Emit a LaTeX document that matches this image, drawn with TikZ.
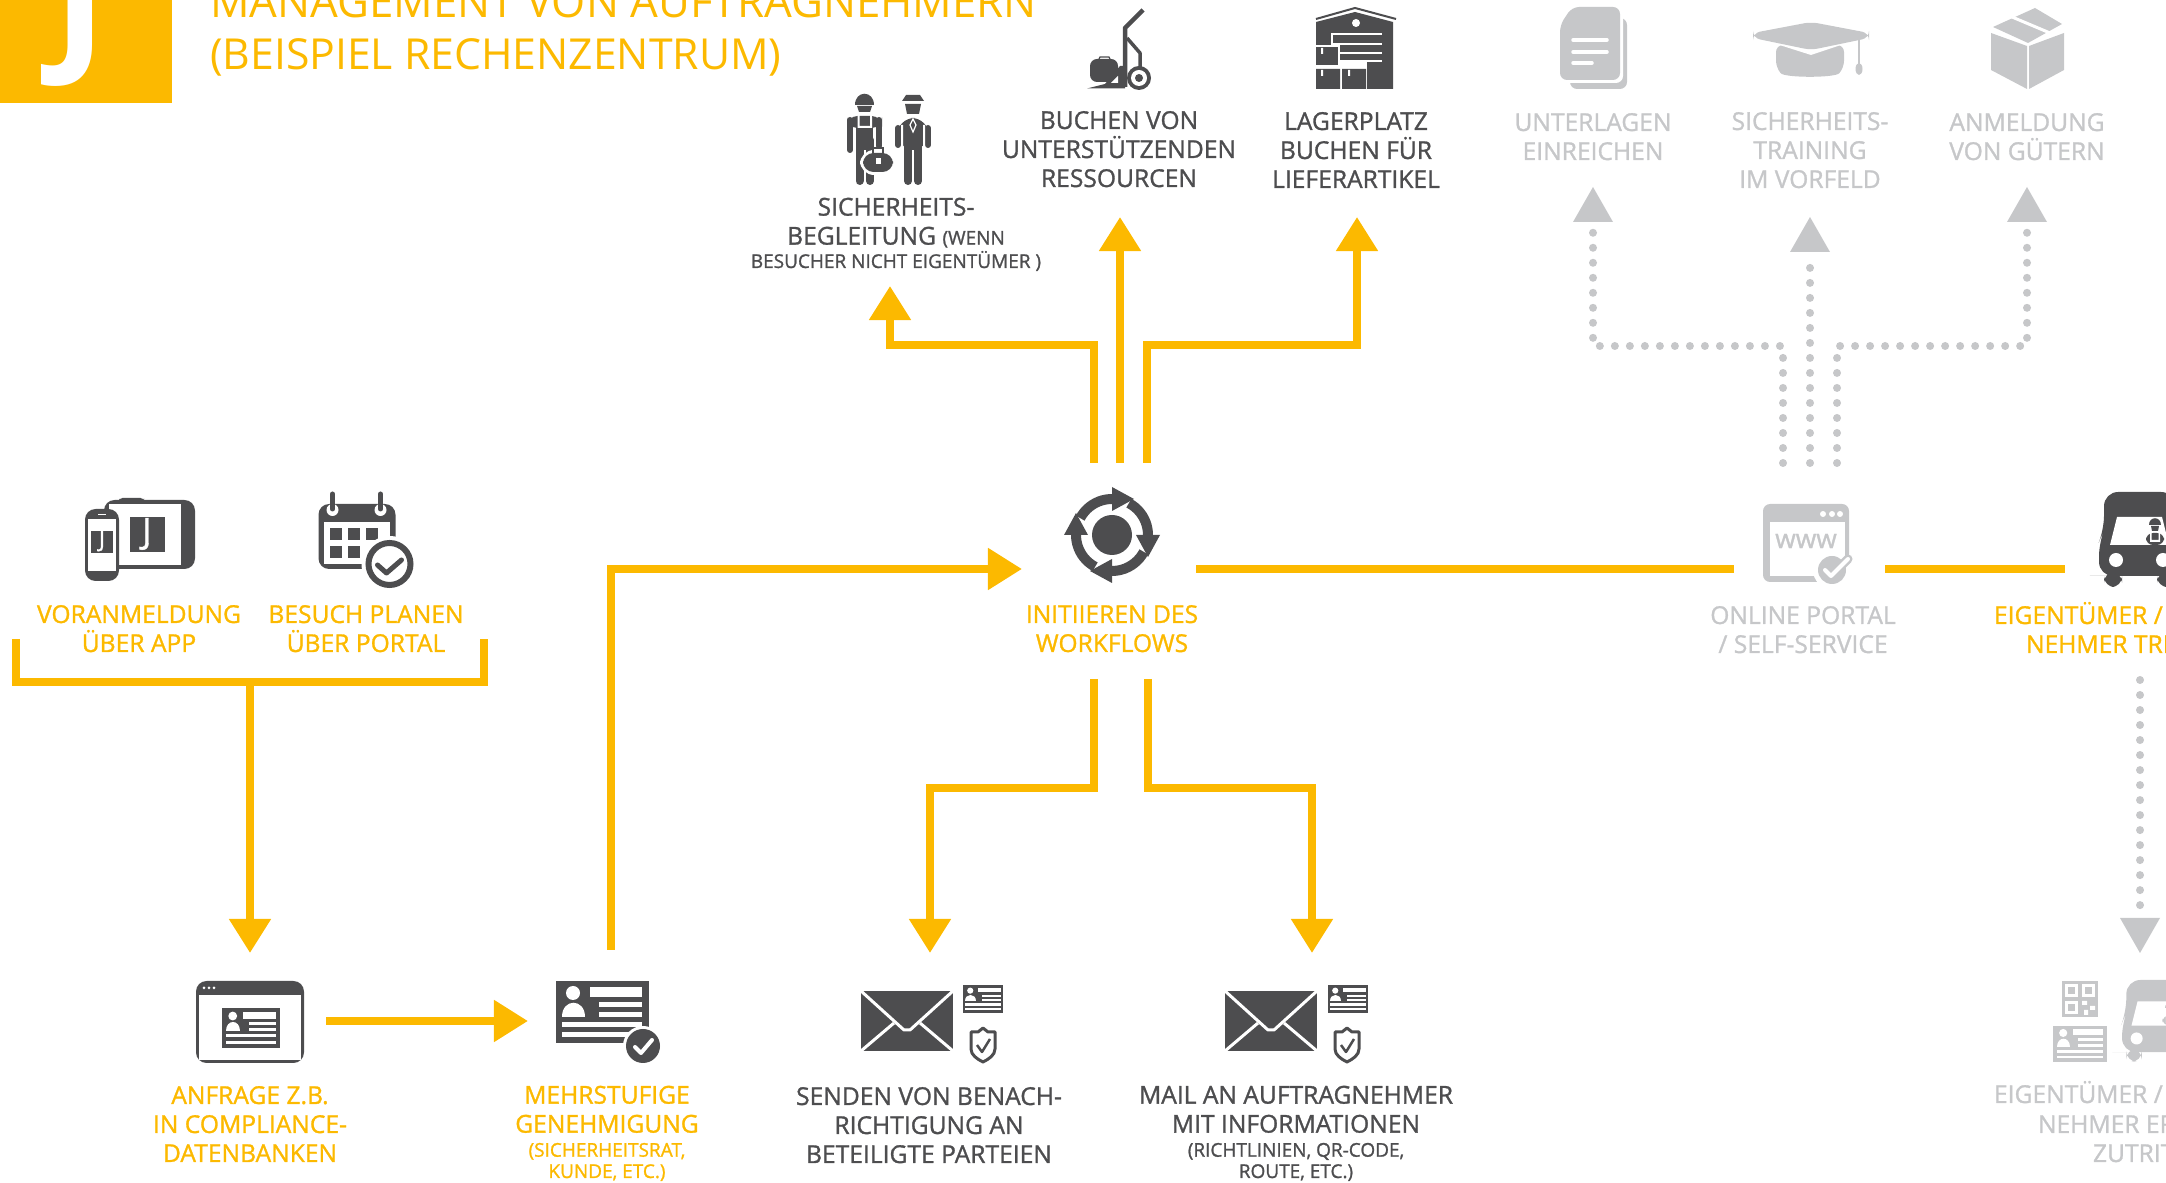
\documentclass[tikz,border=0pt]{standalone}
\usepackage{fontspec}
\setmainfont{Open Sans}
\newfontfamily\semifont[FakeBold=1.2]{Open Sans}
\newfontfamily\titlefont{Open Sans}
\usetikzlibrary{arrows.meta}
\definecolor{jorange}{HTML}{FCB900}
\definecolor{jdark}{HTML}{4D4D4F}
\definecolor{jgrey}{HTML}{C6C7C9}
\newcommand{\smalltxt}{\fontsize{5.4}{6.2}\selectfont}
\tikzset{
  txtbase/.style={anchor=base,align=center,inner sep=0pt,font=\semifont\fontsize{7}{8.25}\selectfont},
  orangelabel/.style={txtbase,text=jorange},
  darklabel/.style={txtbase,text=jdark},
  greylabel/.style={txtbase,text=jgrey},
  headtip/.style={-{Triangle[length=.34cm,width=.4cm]}},
  ywire/.style={draw=jorange,line width=.08cm},
  gdots/.style={draw=jgrey,line width=.08cm,line cap=round,dash pattern=on 0pt off .15cm},
  okmark/.style={line width=.035cm,line cap=round,line join=round},
  pics/idcard/.style={code={
    \fill[#1] (-46.5,-31) rectangle (46.5,31);
    \fill[white] (-29,-19) circle[radius=7];
    \fill[white] (-40,5) .. controls (-40,-14) and (-17,-14) .. (-17,5) -- cycle;
    \fill[white] (-12,-25) rectangle (40,-15);
    \fill[white] (-3,-10) rectangle (40,-5);
    \fill[white] (-3,0) rectangle (40,5);
    \fill[white] (-40,10) rectangle (40,15);
    \fill[white] (-40,20) rectangle (40,25);
  }},
  pics/envelope/.style={code={
    \fill[#1] (-46,-30) rectangle (46,30);
    \draw[white,line width=.03cm,line join=round] (-46,-30) -- (-3,9) -- (3,9) -- (46,-30);
    \draw[white,line width=.03cm] (-46,30) -- (-13,2) (46,30) -- (13,2);
  }},
  pics/shieldok/.style={code={
    \draw[#1,line width=.03cm,line join=round] (0,-17) -- (5,-13) -- (12,-13) -- (12,4) .. controls (12,10) and (6,14) .. (0,17)
      .. controls (-6,14) and (-12,10) .. (-12,4) -- (-12,-13) -- (-5,-13) -- cycle;
    \draw[#1,line width=.025cm,line join=round] (-6,0) -- (-1,7) -- (7,-6);
  }},
  pics/truck/.style={code={
    \fill[#1,rounded corners=4pt] (5,0) -- (76,0) -- (76,38) -- (81,50) -- (81,84) -- (5,84) -- (0,84) -- (0,50) -- (5,38) -- cycle;
    \fill[#1,rounded corners=3pt] (5,80) rectangle (23,95);
    \fill[#1,rounded corners=3pt] (58,80) rectangle (76,95);
    \fill[white] (18,25) -- (63,25) -- (70,53) -- (11,53) -- cycle;
    \fill[white] (17,68) circle[radius=7];
    \fill[white] (64,68) circle[radius=7];
    % driver
    \fill[#1] (50,33) .. controls (50,24) and (62,24) .. (62,33) -- cycle;
    \fill[#1] (52,34) -- (60,34) -- (59,39) -- (53,39) -- cycle;
    \fill[#1,rounded corners=2pt] (47,53) -- (47,41) -- (65,41) -- (65,53) -- cycle;
    \fill[white] (51,41) rectangle (52.5,50) (59.5,41) rectangle (61,50) (51,48) rectangle (61,50);
  }}
}
\begin{document}
\begin{tikzpicture}[x=.01cm,y=-.01cm,line width=.08cm]

  \clip (0,0) rectangle (2166,1183);

  % logo & title
  \fill[jorange] (0,0) rectangle (172,103);
  \node (logoj) at (80,12) [text=white,inner sep=0pt,font=\titlefont\bfseries\fontsize{46}{46}\selectfont] {J};
  \node (titleone) at (206,18) [anchor=base west,inner sep=0pt,text=jorange,font=\titlefont\fontsize{12.47}{14}\selectfont] {MANAGEMENT VON AUFTRAGNEHMERN};
  \node (titletwo) at (206,70) [anchor=base west,inner sep=0pt,text=jorange,font=\titlefont\fontsize{12.15}{14}\selectfont] {(BEISPIEL RECHENZENTRUM)};

  % icons left y=500
  \begin{scope}[shift={(1,0)}]
  \fill[jdark,rounded corners=3pt] (103,500) rectangle (194,569);
  \fill[jdark,rounded corners=1pt] (118,498) rectangle (143,502);
  \fill[white] (108,504) rectangle (180,565);
  \fill[jdark] (186,534) circle[radius=2.5];
  \fill[jdark] (129,517) rectangle (164,552);
  \node (tabletj) at (146,534) [text=white,inner sep=0pt,font=\semifont\fontsize{10}{10}\selectfont] {J};
  \fill[jdark,rounded corners=3pt] (84,509) rectangle (118,581);
  \fill[white] (87,519) rectangle (115,571);
  \fill[white] (97,514) rectangle (105,515.5);
  \fill[jdark] (90,531) rectangle (112,553);
  \node (phonej) at (101,541) [text=white,inner sep=0pt,font=\semifont\fontsize{6.5}{6.5}\selectfont] {J};
  \end{scope}

  \begin{scope}[shift={(1.5,0)}]
  \fill[jdark,rounded corners=3pt] (317,504) rectangle (394,569);
  \fill[white] (322,522) rectangle (388,564);
  \foreach \cx in {328,346,364} {
    \fill[jdark] (\cx,528) rectangle ++(12,12);
  }
  \foreach \cx in {328,346} {
    \fill[jdark] (\cx,546) rectangle ++(12,12);
  }
  \foreach \cx in {331,379} {
    \fill[white] (\cx,510) circle[radius=6];
    \draw[jdark,line width=.05cm,line cap=round] (\cx,494) -- (\cx,509);
  }
  \fill[white] (388,564) circle[radius=28];
  \draw[jdark,line width=.06cm] (388,564) circle[radius=21];
  \draw[jdark,line width=.05cm,line cap=round,line join=round] (376,565) -- (385,573) -- (400,560);
  \end{scope}

  % workflow icon
  \fill[jdark] (1112,535) circle[radius=20];
  \foreach \turn in {0,90,180,270} {
    \begin{scope}[shift={(1112,535)},rotate=\turn]
      \draw[jdark,line width=.1cm] plot[domain=-62:2,samples=12] ({36*cos(\x)},{36*sin(\x)});
      \fill[jdark] (24,0) -- (48,0) -- (36,22) -- cycle;
    \end{scope}
  }

  % portal icon
  \fill[jgrey,rounded corners=2pt] (1763,504) rectangle (1849,582);
  \fill[white] (1770,522) rectangle (1845,576);
  \foreach \cx in {1823,1832,1840} {
    \fill[white] (\cx,514) circle[radius=3];
  }
  \node (www) at (1806,541) [text=jgrey,inner sep=0pt,font=\semifont\fontsize{7.5}{8}\selectfont] {www};
  \fill[white] (1832,570) circle[radius=19];
  \fill[jgrey] (1832,570) circle[radius=14];
  \draw[jgrey,line width=.09cm,line cap=round,line join=round] (1825,570) -- (1831,576) -- (1848,559);
  \draw[white,line width=.04cm,line cap=round,line join=round] (1825,570) -- (1831,576) -- (1848,559);

  \pic at (2099,492) {truck=jdark};

  % icons bottom y=1020
  \fill[jdark,rounded corners=3pt] (196,981) rectangle (304,1063);
  \fill[white] (199,995) rectangle (301,1060);
  \foreach \cx in {204,209,214} {
    \fill[white] (\cx,988) circle[radius=1.5];
  }
  \pic[scale=.63] at (251,1028) {idcard=jdark};

  \pic at (602,1012) {idcard=jdark};
  \fill[white] (643,1046) circle[radius=20];
  \fill[jdark] (643,1046) circle[radius=17];
  \draw[white,okmark,line width=.04cm] (635,1047) -- (641,1053) -- (652,1040);

  \pic at (907,1021) {envelope=jdark};
  \pic[scale=.44] at (983,999) {idcard=jdark};
  \pic at (983,1045) {shieldok=jdark};

  \pic at (1271,1021) {envelope=jdark};
  \pic[scale=.44] at (1348,999) {idcard=jdark};
  \pic at (1347,1045) {shieldok=jdark};

  % QR, card, truck in grey
  \fill[jgrey] (2062,981) rectangle (2098,1017);
  \foreach \qx/\qy in {2065/984,2082/984,2065/1001} {
    \fill[white] (\qx,\qy) rectangle ++(13,13);
    \fill[jgrey] (\qx+3,\qy+3) rectangle ++(7,7);
  }
  \fill[white] (2082,1001) rectangle ++(5,4) (2090,1006) rectangle ++(5,4) (2084,1010) rectangle ++(4,5);
  \pic[scale=.58] at (2080,1044) {idcard=jgrey};
  \pic[scale=.86] at (2122,980) {truck=jgrey};

  % icons top y=10
  % escort: worker and officer
  \fill[jdark] (855,105) .. controls (855,90) and (874,90) .. (874,105) -- cycle;
  \fill[jdark] (857,106) -- (872,106) -- (870,112) -- (859,112) -- cycle;
  \fill[jdark,rounded corners=3pt] (847,116) rectangle (882,128);
  \draw[jdark,line width=.06cm,line cap=round] (850,120) -- (850,150) (879,120) -- (879,146);
  \fill[jdark] (856,120) rectangle (873,150);
  \draw[jdark,line width=.08cm,line cap=round] (859.5,140) -- (859.5,181) (870,140) -- (870,181);
  \fill[white] (857.5,115) rectangle (859.5,128) (870,115) rectangle (872,128) (857.5,126) rectangle (872,128);
  \fill[white,rounded corners=4pt] (860,150) rectangle (896,175);
  \fill[jdark,rounded corners=3pt] (863,153) rectangle (893,172);
  \draw[jdark,line width=.02cm] (873,154) -- (873,148) -- (883,148) -- (883,154);
  \fill[white] (875.5,158) rectangle (880.5,164);

  \fill[jdark] (906,95) -- (920,95) -- (924,101) -- (902,101) -- cycle;
  \fill[jdark] (905,104) -- (921,104) -- (919,114) -- (907,114) -- cycle;
  \fill[jdark,rounded corners=5pt] (897,118) rectangle (929,150);
  \draw[jdark,line width=.06cm,line cap=round] (898,128) -- (898,145) (928,128) -- (928,145);
  \fill[white] (901,125) rectangle (903,150) (923,125) rectangle (925,150);
  \draw[jdark,line width=.08cm,line cap=round] (908,145) -- (908,181) (918,145) -- (918,181);
  \draw[white,line width=.012cm] (913,119) -- (916,125) -- (913,132) -- (910,125) -- cycle;

  % hand truck
  \draw[jdark,line width=.045cm,line join=round] (1143,10) -- (1125,28) -- (1125,87);
  \draw[jdark,line width=.035cm,line join=round] (1127,38) -- (1140,53) -- (1140,70);
  \fill[jdark,rounded corners=2pt] (1090,59) rectangle (1118,82);
  \draw[jdark,line width=.012cm] (1099,59) -- (1100,57) -- (1109,57) -- (1110,59);
  \fill[jdark] (1087,88.5) -- (1125,88.5) -- (1125,66) -- (1120,66) -- (1105,84) -- cycle;
  \fill[white] (1118,76) -- (1118,83) -- (1111,83) -- cycle;
  \fill[jdark] (1139,78) circle[radius=12];
  \fill[white] (1139,78) circle[radius=8];
  \fill[jdark] (1139,78) circle[radius=4];

  % warehouse
  \draw[jdark,line width=.02cm] (1316,19) -- (1355,8) -- (1396,19);
  \fill[jdark] (1316,22) -- (1355,12) -- (1393,22) -- (1393,89) -- (1316,89) -- cycle;
  \fill[white] (1356,23) circle[radius=4];
  \foreach \sy in {33,43,52,60} {
    \fill[white] (1331,\sy) rectangle (1382,\sy+2.5);
  }
  \fill[white] (1331,33) rectangle (1333,46);
  \fill[white] (1313,45) rectangle (1340,68);
  \fill[jdark] (1316,47) rectangle (1338,65);
  \fill[white] (1338,60) rectangle (1367,91);
  \fill[white] (1313,66) rectangle (1367,69);
  \fill[jdark] (1316,69) rectangle (1340,89) (1342,69) rectangle (1366,89);
  \fill[white] (1321,48) rectangle (1323,54) (1321,70) rectangle (1323,76) (1348,70) rectangle (1350,76);

  % document
  \fill[jgrey,rounded corners=2pt] (1570,18) rectangle (1627,89);
  \fill[white,rounded corners=2pt] (1557,4) rectangle (1623,83);
  \fill[jgrey,rounded corners=2pt] (1572,7) -- (1620,7) -- (1620,80) -- (1560,80) -- (1560,25) -- cycle;
  \foreach \sy/\sx in {40/1607,52/1607,63/1592} {
    \draw[white,line width=.035cm,line cap=round] (1573,\sy) -- (\sx,\sy);
  }

  % graduation cap
  \fill[jgrey,rounded corners=2pt] (1776,45) -- (1844,45) -- (1844,68) .. controls (1835,78) and (1785,78) .. (1776,68) -- cycle;
  \fill[white] (1770,42) -- (1811,55) -- (1850,42) -- (1850,38) -- (1770,38) -- cycle;
  \fill[jgrey,rounded corners=2pt] (1753,33) -- (1811,22) -- (1869,33) -- (1869,38) -- (1811,50) -- (1753,38) -- cycle;
  \draw[jgrey,line width=.02cm] (1859,38) -- (1859,66);
  \fill[jgrey] (1859,69) ellipse[x radius=3.5,y radius=6];

  % parcel
  \fill[jgrey] (1991,33) -- (2027,46) -- (2027,89) -- (1991,70) -- cycle;
  \fill[jgrey] (2029,46) -- (2064,33) -- (2064,70) -- (2029,89) -- cycle;
  \fill[jgrey] (1993,27) -- (2035,8) -- (2062,24) -- (2028,43) -- cycle;
  \draw[white,line width=.03cm] (2012,17) -- (2050,33);

  % labels orange
  \node (voran) at (139,652) [orangelabel] {VORANMELDUNG\\ÜBER APP};
  \node (besuch) at (366,652) [orangelabel] {BESUCH PLANEN\\ÜBER PORTAL};
  \node (anfrage) at (250,1162) [orangelabel] {ANFRAGE Z.B.\\IN COMPLIANCE-\\DATENBANKEN};
  \node (genehm) at (607,1178) [orangelabel] {MEHRSTUFIGE\\GENEHMIGUNG\\[-1.4pt]{\smalltxt (SICHERHEITSRAT,}\\[-2.2pt]{\smalltxt KUNDE, ETC.)}};
  \node (init) at (1112,652) [orangelabel] {INITIIEREN DES\\WORKFLOWS};
  \node (ownerone) at (1990,624) [orangelabel,anchor=base west] {EIGENTÜMER /};
  \node (ownertwo) at (2022,653) [orangelabel,anchor=base west] {NEHMER TRI};

  % labels dark
  \node (escort) at (896,268) [darklabel] {SICHERHEITS-\\BEGLEITUNG {\smalltxt (WENN}\\[-1.6pt]{\smalltxt BESUCHER NICHT EIGENTÜMER )}};
  \node (buchen) at (1119,187) [darklabel] {BUCHEN VON\\UNTERSTÜTZENDEN\\RESSOURCEN};
  \node (lager) at (1356,188) [darklabel] {LAGERPLATZ\\BUCHEN FÜR\\LIEFERARTIKEL};
  \node (senden) at (929,1163) [darklabel] {SENDEN VON BENACH-\\RICHTIGUNG AN\\BETEILIGTE PARTEIEN};
  \node (mail) at (1296,1178) [darklabel] {MAIL AN AUFTRAGNEHMER\\MIT INFORMATIONEN\\[-1.4pt]{\smalltxt (RICHTLINIEN, QR-CODE,}\\[-2.2pt]{\smalltxt ROUTE, ETC.)}};

  % labels grey
  \node (unterlagen) at (1593,160) [greylabel] {UNTERLAGEN\\EINREICHEN};
  \node (training) at (1810,188) [greylabel] {SICHERHEITS-\\TRAINING\\IM VORFELD};
  \node (anmeldung) at (2027,160) [greylabel] {ANMELDUNG\\VON GÜTERN};
  \node (online) at (1803,653) [greylabel] {ONLINE PORTAL\\/ SELF-SERVICE};
  \node (erone) at (1990,1103) [greylabel,anchor=base west] {EIGENTÜMER /};
  \node (ertwo) at (2034,1133) [greylabel,anchor=base west] {NEHMER ER};
  \node (erthree) at (2089,1162) [greylabel,anchor=base west] {ZUTRIT};

  % wiring y=345 (workflow - top row)
  \coordinate (wfa) at (1094,463);
  \coordinate (wfb) at (1120,463);
  \coordinate (wfc) at (1147,463);
  \coordinate (escortbend) at (890,345);
  \coordinate (lagerbend) at (1357,345);
  \coordinate (escorttip) at (890,286);
  \coordinate (buchentip) at (1120,217);
  \coordinate (lagertip) at (1357,217);
  \draw[ywire,headtip] (wfa) |- (escortbend) -- (escorttip);
  \draw[ywire,headtip] (wfb) -- (buchentip);
  \draw[ywire,headtip] (wfc) |- (lagerbend) -- (lagertip);

  % wiring (portal - grey row)
  \coordinate (pa) at (1783,463);
  \coordinate (pb) at (1810,463);
  \coordinate (pc) at (1837,463);
  \coordinate (unterbend) at (1593,346);
  \coordinate (anmeldbend) at (2027,346);
  \coordinate (untertip) at (1593,187);
  \coordinate (trainingtip) at (1810,217);
  \coordinate (anmeldtip) at (2027,187);
  \draw[gdots] (pa) |- (unterbend) -- (1593,225);
  \draw[gdots] (pb) -- (1810,255);
  \draw[gdots] (pc) |- (anmeldbend) -- (2027,225);
  \fill[jgrey] (untertip) -- ++(20,35) -- ++(-40,0) -- cycle;
  \fill[jgrey] (trainingtip) -- ++(20,35) -- ++(-40,0) -- cycle;
  \fill[jgrey] (anmeldtip) -- ++(20,35) -- ++(-40,0) -- cycle;

  % wiring (bracket - request - approval - workflow)
  \coordinate (brl) at (16,639);
  \coordinate (brlb) at (16,682);
  \coordinate (brr) at (484,639);
  \coordinate (brrb) at (484,682);
  \coordinate (brm) at (250,682);
  \coordinate (anfragetip) at (250,953);
  \coordinate (anfragestart) at (326,1021);
  \coordinate (genehmtip) at (528,1021);
  \coordinate (genehmup) at (611,950);
  \coordinate (initbend) at (611,569);
  \coordinate (inittip) at (1022,569);
  \draw[ywire,line join=miter] (brl) -- (brlb) -- (brrb) -- (brr);
  \draw[ywire,headtip] (brm) -- (anfragetip);
  \draw[ywire,headtip] (anfragestart) -- (genehmtip);
  \draw[ywire,headtip] (genehmup) -- (initbend) -- (inittip);

  % wiring (workflow - mails)
  \coordinate (wfd) at (1094,679);
  \coordinate (wfe) at (1148,679);
  \coordinate (sendenbend) at (930,788);
  \coordinate (mailbend) at (1312,788);
  \coordinate (sendentip) at (930,953);
  \coordinate (mailtip) at (1312,953);
  \draw[ywire,headtip] (wfd) |- (sendenbend) -- (sendentip);
  \draw[ywire,headtip] (wfe) |- (mailbend) -- (mailtip);

  % wiring (workflow - portal - owner)
  \coordinate (wfout) at (1196,569);
  \coordinate (portalin) at (1734,569);
  \coordinate (portalout) at (1885,569);
  \coordinate (truckin) at (2065,569);
  \draw[ywire] (wfout) -- (portalin);
  \draw[ywire] (portalout) -- (truckin);

  % wiring (owner - badge)
  \coordinate (ownerdown) at (2140,680);
  \coordinate (badgetip) at (2140,953);
  \draw[gdots] (ownerdown) -- (2140,911);
  \fill[jgrey] (badgetip) -- ++(20,-35) -- ++(-40,0) -- cycle;

\end{tikzpicture}
\end{document}
